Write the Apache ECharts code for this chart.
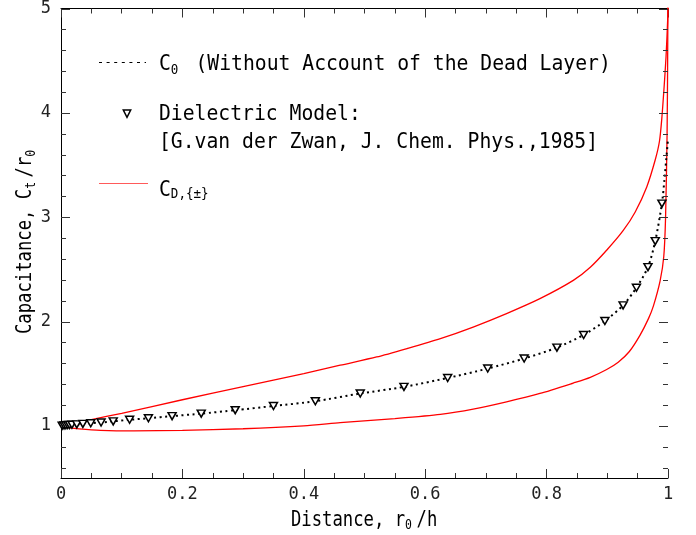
<!DOCTYPE html>
<html><head><meta charset="utf-8">
<script src="https://cdn.jsdelivr.net/npm/echarts@6/dist/echarts.min.js"></script>
<style>html,body{margin:0;padding:0;background:#fff}#c{width:696px;height:535px}</style>
</head><body><div id="c"></div>
<script>
// ---- data ----
const dmX = [0.002,0.005,0.008,0.011,0.014,0.018,0.026,0.036,0.049,0.066,0.086,0.113,0.144,0.183,0.231,0.287,0.350,0.419,0.493,0.565,0.637,0.703,0.763,0.817,0.861,0.896,0.926,0.948,0.967,0.979,0.990];
const dmY = [1.002,1.004,1.006,1.008,1.009,1.011,1.014,1.019,1.025,1.032,1.043,1.058,1.073,1.093,1.117,1.150,1.190,1.236,1.310,1.373,1.459,1.549,1.645,1.750,1.871,2.005,2.155,2.324,2.521,2.770,3.130];
const c0X = [0,0.002,0.005,0.008,0.011,0.014,0.018,0.026,0.036,0.049,0.066,0.086,0.113,0.144,0.183,0.231,0.287,0.350,0.419,0.493,0.565,0.637,0.703,0.763,0.817,0.861,0.896,0.926,0.948,0.967,0.979,0.990,0.994,0.997,0.999,1.0];
const c0Y = [1.000,1.002,1.004,1.006,1.008,1.009,1.011,1.014,1.019,1.025,1.032,1.043,1.058,1.073,1.093,1.117,1.150,1.190,1.236,1.310,1.373,1.459,1.549,1.645,1.750,1.871,2.005,2.155,2.324,2.521,2.770,3.130,3.35,3.55,3.68,3.75];
const cdPlusX = [0,0.05,0.1,0.2,0.3,0.4,0.46,0.52,0.57,0.625,0.679,0.734,0.789,0.844,0.872,0.9,0.926,0.946,0.965,0.979,0.986,0.990,0.9935,0.9967,0.9995,1.0];
const cdPlusY = [1.0,1.06,1.12,1.25,1.375,1.5,1.581,1.66,1.741,1.836,1.947,2.076,2.219,2.394,2.52,2.69,2.87,3.05,3.29,3.55,3.73,3.96,4.24,4.53,4.9,5.1];
const cdMinusX = [0,0.015,0.03,0.065,0.12,0.2,0.3,0.4,0.46,0.55,0.625,0.679,0.734,0.789,0.844,0.872,0.899,0.918,0.936,0.954,0.968,0.976,0.987,0.993,0.996,0.9985,0.9995,1.0];
const cdMinusY = [1.0,0.98,0.97,0.957,0.952,0.956,0.972,1.0,1.03,1.07,1.11,1.16,1.23,1.31,1.41,1.465,1.54,1.61,1.71,1.87,2.03,2.15,2.39,2.62,3.0,3.8,4.6,5.2];
const xTickValues = [0,0.2,0.4,0.6,0.8,1];
const yMajorTicks = [1,2,3,4,5];
const yMinorTicks = [0.6,0.8,1.2,1.4,1.6,1.8,2.2,2.4,2.6,2.8,3.2,3.4,3.6,3.8,4.2,4.4,4.6,4.8];
const legendC0 = [{t:'C'},{t:'0',sub:true},{t:' (Without Account of the Dead Layer)'}];
const legendDM1 = 'Dielectric Model:';
const legendDM2 = '[G.van der Zwan, J. Chem. Phys.,1985]';
const legendCD = [{t:'C'},{t:'D,{±}',sub:true}];
const yTitle = [{t:'Capacitance, C'},{t:'t',sub:true},{t:'/r'},{t:'0',sub:true}];
const xTitle = [{t:'Distance, r'},{t:'0',sub:true},{t:'/h'}];

// ---- helpers ----
const MONO = 'DejaVu Sans Mono';
const zip = (a,b) => a.map((v,i)=>[v,b[i]]);
function pieces(parts, fs, subFs, subAdv, subDy, fill) {
  let x = 0; const out = [];
  parts.forEach(p => {
    out.push({type:'text', x:x, y: p.sub ? subDy : 0,
      style:{text:p.t, fontSize:p.sub?subFs:fs, fontFamily:MONO, fill:fill||'#000',
             align:'left', verticalAlign:'middle', textAlign:'left', textVerticalAlign:'middle'}});
    x += p.sub ? (subAdv != null ? subAdv : p.t.length*0.602*subFs) : p.t.length*0.602*fs;
  });
  return out;
}

const tickData = yMajorTicks.map(v=>[0,v,9]).concat(yMinorTicks.map(v=>[0,v,5]));

const chart = echarts.init(document.getElementById('c'), null, {renderer:'canvas'});
const axisLabelStyle = {fontFamily:MONO, fontSize:17, color:'#222'};
chart.setOption({
  animation:false,
  backgroundColor:'#fff',
  grid:{left:61, right:28, top:8, bottom:57, containLabel:false},
  xAxis:[
    {type:'value', min:0, max:1, interval:0.2, position:'bottom',
     axisLine:{show:true, lineStyle:{color:'#000', width:1}},
     axisTick:{show:true, inside:true, length:9, lineStyle:{color:'#333'}},
     minorTick:{show:true, splitNumber:4, length:5, lineStyle:{color:'#333'}},
     axisLabel:Object.assign({margin:8, formatter:v=>{const s=xTickValues.find(t=>Math.abs(t-v)<1e-9);return s===undefined?'':String(s);}}, axisLabelStyle),
     splitLine:{show:false}},
    {type:'value', min:0, max:1, interval:0.2, position:'top',
     axisLine:{show:true, lineStyle:{color:'#000', width:1}},
     axisTick:{show:true, inside:true, length:9, lineStyle:{color:'#333'}},
     minorTick:{show:true, splitNumber:4, length:5, lineStyle:{color:'#333'}},
     axisLabel:{show:false}, splitLine:{show:false}}
  ],
  yAxis:[
    {type:'value', min:0.5, max:5, interval:0.5, position:'left',
     axisLine:{show:true, lineStyle:{color:'#000', width:1}},
     axisTick:{show:false}, minorTick:{show:false},
     axisLabel:Object.assign({margin:10, formatter:v=>yMajorTicks.some(t=>Math.abs(t-v)<1e-9)?String(Math.round(v)):''}, axisLabelStyle),
     splitLine:{show:false}},
    {type:'value', min:0.5, max:5, interval:0.5, position:'right',
     axisLine:{show:true, lineStyle:{color:'#000', width:1}},
     axisTick:{show:false}, minorTick:{show:false}, axisLabel:{show:false}, splitLine:{show:false}}
  ],
  series:[
    {type:'custom', coordinateSystem:'cartesian2d', silent:true, clip:false,
     encode:{x:0, y:1}, data:tickData, z:5,
     renderItem:(params, api)=>{
       const v = api.value(1), len = api.value(2);
       const pL = api.coord([0, v]), pR = api.coord([1, v]);
       const y = Math.round(pL[1]) + 0.5;
       return {type:'group', children:[
         {type:'line', shape:{x1:pL[0], y1:y, x2:pL[0]+len, y2:y}, style:{stroke:'#333', lineWidth:1}},
         {type:'line', shape:{x1:pR[0], y1:y, x2:pR[0]-len, y2:y}, style:{stroke:'#333', lineWidth:1}}
       ]};
     }},
    {name:'CD+', type:'line', data:zip(cdPlusX, cdPlusY), showSymbol:false, smooth:0.25,
     lineStyle:{color:'#ff0000', width:1.3}, clip:true, z:3},
    {name:'CD-', type:'line', data:zip(cdMinusX, cdMinusY), showSymbol:false, smooth:0.25,
     lineStyle:{color:'#ff0000', width:1.3}, clip:true, z:3},
    {name:'C0', type:'line', data:zip(c0X, c0Y), showSymbol:false, smooth:0.25,
     lineStyle:{color:'#000', width:2, type:[2,3.5]}, clip:true, z:4},
    {name:'Dielectric', type:'scatter', data:zip(dmX, dmY), symbol:'path://M0,0L10,0L5,9Z', symbolSize:[8,7],
     itemStyle:{color:'#fff', borderColor:'#000', borderWidth:1.5, opacity:1}, z:6}
  ],
  graphic:{elements:[
    {type:'line', shape:{x1:99, y1:62.5, x2:146, y2:62.5}, style:{stroke:'#000', lineWidth:1.2, lineDash:[3,4.6]}},
    {type:'group', x:159, y:64, scaleX:0.896, children:pieces(legendC0, 22, 14, 14.2, 6)},
    {type:'polygon', shape:{points:[[123.3,110],[130.7,110],[127,117.3]]}, style:{fill:'#fff', stroke:'#000', lineWidth:1.5}},
    {type:'group', x:159, y:114.5, scaleX:0.896, children:pieces([{t:legendDM1}], 22, 14, null, 0)},
    {type:'group', x:159, y:142, scaleX:0.896, children:pieces([{t:legendDM2}], 22, 14, null, 0)},
    {type:'line', shape:{x1:99, y1:183.5, x2:148, y2:183.5}, style:{stroke:'#ff5a5a', lineWidth:1}},
    {type:'group', x:159, y:190, scaleX:0.896, children:pieces(legendCD, 22, 14, null, 4)},
    {type:'group', x:26, y:334, rotation:Math.PI/2, scaleX:0.82, children:pieces(yTitle, 21, 14, 14, 5)},
    {type:'group', x:291, y:520.5, scaleX:0.82, children:pieces(xTitle, 21, 14, 14, 5)}
  ]}
});
</script></body></html>
